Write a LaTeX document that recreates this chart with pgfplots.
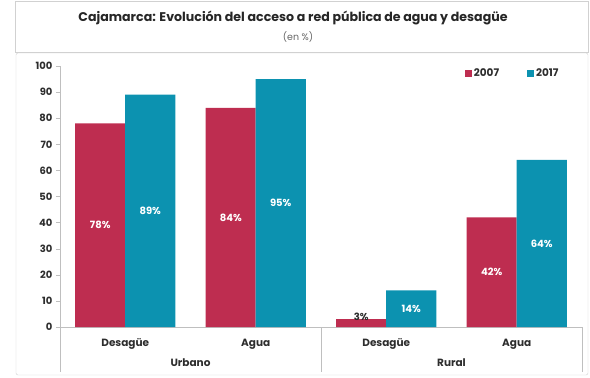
\documentclass[border=0pt]{standalone}
\usepackage{pgfplots}
\pgfplotsset{compat=1.18}
\usepackage{fontspec}
\setmainfont{Poppins}
\definecolor{c07}{RGB}{190,45,80}
\definecolor{c17}{RGB}{12,146,176}
\definecolor{axgray}{RGB}{191,191,191}
\definecolor{txt}{RGB}{45,45,45}
\begin{document}
\begin{tikzpicture}
\path[use as bounding box] (0pt,0pt) rectangle (590pt,378pt);
\draw[black!18, rounded corners=2pt] (16pt,3pt) rectangle (588pt,325pt);
\draw[black!18] (15pt,326pt) rectangle (588pt,377pt);
\node[font=\bfseries\fontsize{12.6}{14}\selectfont, text=black!85] at (293pt,360pt) {Cajamarca: Evolución del acceso a red pública de agua y desagüe};
\node[font=\fontsize{9.5}{11}\selectfont, text=black!60] at (298pt,341pt) {(en \%)};
\begin{axis}[
  at={(60pt,51pt)}, anchor=south west,
  scale only axis, width=522pt, height=261pt,
  ybar=0pt, bar width=50pt,
  xmin=-0.5, xmax=3.5, ymin=0, ymax=100,
  clip=false,
  xtick={0,1,2,3}, xticklabels={Desagüe,Agua,Desagüe,Agua},
  ytick={0,10,...,100},
  axis lines=left,
  axis line style={axgray, -},
  xtick style={draw=none},
  ytick style={axgray},
  major tick length=4pt,
  tick align=outside,
  /pgf/number format/assume math mode=true,
  yticklabel style={font=\bfseries\fontsize{10}{11}\selectfont, text=txt},
  xticklabel style={font=\bfseries\fontsize{10.5}{11}\selectfont, text=txt, anchor=base, yshift=-15pt},
  legend style={at={(0.965,0.973)}, anchor=east, draw=none, fill=none,
    font=\bfseries\fontsize{10.5}{11}\selectfont, text=txt,
    /tikz/every even column/.append style={column sep=26pt}},
  legend columns=2,
  legend image code/.code={\fill[#1] (0pt,-3.5pt) rectangle (7pt,3.5pt);},
  visualization depends on={rawy \as \rawy},
  nodes near coords={\ifdim\rawy pt<5pt\color{txt}\fi\pgfmathprintnumber{\rawy}\%},
  every node near coord/.append style={font=\bfseries\fontsize{10}{11}\selectfont, text=white, anchor=center, yshift={ifthenelse(\rawy<5,2,-1.305*\rawy)*1pt}},
]
\addplot[fill=c07, draw=none] coordinates {(0,78) (1,84) (2,3) (3,42)};
\addplot[fill=c17, draw=none] coordinates {(0,89) (1,95) (2,14) (3,64)};
\legend{2007,2017}
\draw[axgray] (axis cs:-0.5,0) -- ++(0pt,-45pt);
\draw[axgray] (axis cs:1.5,0) -- ++(0pt,-45pt);
\draw[axgray] (axis cs:3.5,0) -- ++(0pt,-45pt);
\node[font=\bfseries\fontsize{10.5}{11}\selectfont, text=txt, anchor=base] at (axis cs:0.5,0) [yshift=-39pt] {Urbano};
\node[font=\bfseries\fontsize{10.5}{11}\selectfont, text=txt, anchor=base] at (axis cs:2.5,0) [yshift=-39pt] {Rural};
\end{axis}
\end{tikzpicture}
\end{document}
